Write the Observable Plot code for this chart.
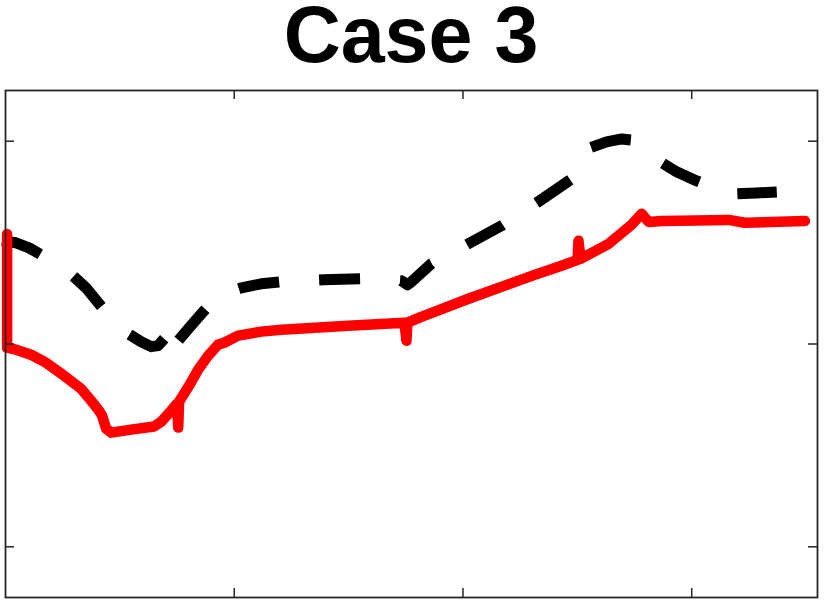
<!DOCTYPE html>
<html>
<head>
<meta charset="utf-8">
<script src="https://cdn.jsdelivr.net/npm/d3@7"></script>
<script src="https://cdn.jsdelivr.net/npm/@observablehq/plot@0.6"></script>
<style>
  html, body { margin: 0; padding: 0; background: #fff; }
  #wrap { width: 824px; height: 602px; overflow: hidden; }
  #title { width: 824px; height: 85px; padding-top: 3px; line-height: 63px; text-align: center;
           font-family: "Liberation Sans", Arial, Helvetica, sans-serif; font-weight: bold;
           font-size: 79px; color: #000; }
  #title span { position: relative; left: -1px; }
  #chart svg { display: block; }
</style>
</head>
<body>
<div id="wrap">
  <div id="title"><span>Case 3</span></div>
  <div id="chart"></div>
</div>
<script>
// Tick positions (no tick labels shown in the reference)
const xTicks = [100, 200, 300];
const yTicks = [0, 100, 200];

// Red solid series
const redX = [0.7, 0.7, 4.6, 11.2, 17.7, 24.3, 33.0, 37.4, 40.9, 42.2, 44.0, 46.2, 54.9, 65.0, 68.1, 72.4, 75.0, 75.5, 75.9,
  80.3, 84.2, 88.6, 93.0, 95.6, 101.7, 111.8, 120.6, 149.9, 174.4, 175.3, 175.7, 181.8, 202.4, 231.3, 243.1, 250.1, 250.5, 251.4,
  263.7, 273.7, 278.1, 281.2, 286.9, 316.2, 323.2, 349.5];
const redY = [154.3, 98.2, 97.2, 94.7, 90.8, 85.4, 78.0, 72.1, 67.1, 64.7, 58.3, 56.3, 57.8, 59.3, 61.7, 67.1, 70.6, 58.8, 71.6,
  79.5, 87.3, 94.2, 99.7, 100.6, 104.1, 106.1, 107.0, 109.0, 110.5, 101.6, 110.5, 113.4, 122.3, 134.1, 138.6, 141.5, 150.9, 142.0,
  149.4, 158.8, 164.2, 160.2, 160.7, 161.2, 159.8, 160.7];

// Black dashed series
const blackX = [-1.5, 4.6, 10.3, 15.5, 22.1, 29.5, 35.2, 40.9, 47.0, 53.6, 59.3, 63.7, 66.7, 69.4, 72.4, 72.4, 72.4, 75.5,
  80.3, 85.6, 90.8, 96.5, 103.1, 111.8, 120.6, 129.3, 139.0, 156.9, 166.5, 173.1, 175.7, 177.5, 186.2, 192.8, 200.7, 216.8,
  232.2, 247.5, 251.0, 254.1, 262.8, 269.4, 273.7, 278.1, 285.6, 293.4, 302.2, 311.0, 318.8, 328.4, 337.2];
const blackY = [150.9, 149.9, 147.4, 144.0, 139.6, 133.6, 127.7, 119.9, 111.5, 105.1, 101.1, 98.7, 99.2, 102.6, 101.6, 95.2, 101.1, 101.6,
  108.0, 114.9, 121.3, 125.3, 127.7, 129.7, 130.7, 131.2, 131.7, 132.2, 131.7, 131.2, 129.2, 130.7, 139.6, 143.5, 148.4, 158.3,
  169.6, 181.4, 187.8, 196.2, 199.7, 201.1, 200.6, 197.7, 190.3, 184.9, 180.4, 176.5, 174.0, 174.5, 175.0];

const red = redX.map((x, i) => ({x, y: redY[i]}));
const black = blackX.map((x, i) => ({x, y: blackY[i]}));

const W = 824, H = 514, mL = 5, mR = 7, mT = 2, mB = 5;
const fw = W - mL - mR, fh = H - mT - mB, tick = 9;
const axisColor = "#262626";

const chart = Plot.plot({
  width: W, height: H,
  marginLeft: mL, marginRight: mR, marginTop: mT, marginBottom: mB,
  x: {domain: [0, 355], axis: null},
  y: {domain: [-25, 225], axis: null},
  marks: [
    Plot.line(black, {x: "x", y: "y", stroke: "#000", strokeWidth: 11, strokeDasharray: "41,40",
      strokeLinecap: "butt", strokeLinejoin: "round"}),
    Plot.line(red, {x: "x", y: "y", stroke: "#ff0000", strokeWidth: 10.5,
      strokeLinecap: "round", strokeLinejoin: "round"}),
    Plot.ruleX(xTicks, {x: d => d, insetBottom: fh - tick, stroke: axisColor, strokeWidth: 1.5}),
    Plot.ruleX(xTicks, {x: d => d, insetTop: fh - tick, stroke: axisColor, strokeWidth: 1.5}),
    Plot.ruleY(yTicks, {y: d => d, insetRight: fw - tick, stroke: axisColor, strokeWidth: 1.5}),
    Plot.ruleY(yTicks, {y: d => d, insetLeft: fw - tick, stroke: axisColor, strokeWidth: 1.5}),
    Plot.frame({stroke: axisColor, strokeWidth: 1.8})
  ]
});
document.getElementById("chart").appendChild(chart);
</script>
</body>
</html>
